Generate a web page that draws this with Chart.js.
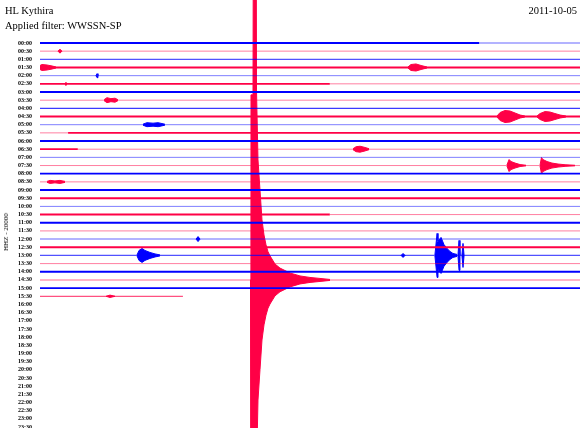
<!DOCTYPE html>
<html>
<head>
<meta charset="utf-8">
<title>HL Kythira helicorder</title>
<script src="https://cdn.jsdelivr.net/npm/chart.js@4.4.1/dist/chart.umd.min.js"></script>
<style>
  body { margin: 0; background: #fff; }
  #wrap { position: relative; width: 580px; height: 428px; overflow: hidden; }
  #heli { position: absolute; left: 0; top: 0; }
  .txt {
    position: absolute;
    font-family: "Liberation Serif", serif;
    font-size: 10.5px;
    color: #000;
    white-space: nowrap;
  }
  .ytitle {
    left: 6px;
    top: 232px;
    font-size: 7px;
    transform: translate(-50%, -50%) rotate(-90deg);
  }
</style>
</head>
<body>
<div id="wrap">
  <canvas id="heli" width="580" height="428"></canvas>
  <div class="txt" style="left:5px; top:5px">HL Kythira</div>
  <div class="txt" style="left:5px; top:20px">Applied filter: WWSSN-SP</div>
  <div class="txt" style="right:3px; top:5px">2011-10-05</div>
  <div class="txt ytitle">HHZ - 20000</div>
</div>
<script>
// ─── Data ─────────────────────────────────────────────────────────

// one row per half hour
const ROW_LABELS = [
  "00:00", "00:30", "01:00", "01:30", "02:00", "02:30", "03:00", "03:30",
  "04:00", "04:30", "05:00", "05:30", "06:00", "06:30", "07:00", "07:30",
  "08:00", "08:30", "09:00", "09:30", "10:00", "10:30", "11:00", "11:30",
  "12:00", "12:30", "13:00", "13:30", "14:00", "14:30", "15:00", "15:30",
  "16:00", "16:30", "17:00", "17:30", "18:00", "18:30", "19:00", "19:30",
  "20:00", "20:30", "21:00", "21:30", "22:00", "22:30", "23:00", "23:30",
];

// background noise level (counts) at the start of every recorded row
const NOISE = [
  2400, 1100, 1500, 2400, 1100, 2200, 2400, 1100,
  1700, 2400, 1100, 1100, 2400, 2200, 1100, 1100,
  2200, 1100, 2400, 2400, 1100, 2400, 2400, 1100,
  1300, 2400, 1500, 1100, 2400, 1300, 2200, 1500,
];
// rows whose noise level changes part way through
const NOISE_CHANGE_ROW = [0, 5, 11, 13, 21];
const NOISE_CHANGE_AT = [24.4, 16.1, 1.56, 2.1, 16.1]; // minutes
const NOISE_AFTER = [1300, 1100, 2200, 1100, 1100];

const ROW_MINUTES = 30;      // length of one row
const LAST_ROW_END = 7.94;   // minutes recorded in the last row
const COUNTS_PER_ROW = 20000;

// events: row, time (minutes into the row), envelope amplitude (counts)
const EVENT_ROW = [1, 3, 3, 4, 5, 7, 9, 9, 10, 13, 15, 15, 17, 24, 26, 26, 26, 26, 26, 29, 31];
const EVENT_TIMES = [
  [1.0, 1.11, 1.22],
  [0, 0.11, 0.39, 0.67, 0.89],
  [20.44, 20.61, 20.89, 21.17, 21.5],
  [3.11, 3.17, 3.22],
  [1.39, 1.44, 1.5],
  [3.56, 3.72, 3.94, 4.17, 4.33],
  [25.39, 25.56, 25.83, 26.11, 26.39, 26.67, 26.94],
  [27.61, 27.78, 28.06, 28.33, 28.61, 28.89, 29.22],
  [5.72, 5.94, 6.28, 6.56, 6.94],
  [17.39, 17.56, 17.78, 18.0, 18.28],
  [25.94, 26.06, 26.17, 26.39, 26.67, 27.0],
  [27.78, 27.86, 27.94, 28.17, 28.44, 28.78, 29.17, 29.72],
  [0.39, 0.56, 0.83, 1.11, 1.39],
  [8.67, 8.78, 8.89],
  [5.39, 5.5, 5.67, 5.83, 6.11, 6.39, 6.67],
  [20.06, 20.17, 20.28],
  [21.94, 22.06, 22.11, 22.28, 22.44, 22.61, 22.78, 22.94, 23.17],
  [23.22, 23.28, 23.33],
  [23.44, 23.5, 23.56],
  [11.694, 11.722, 11.833, 11.878, 11.989, 12.028, 12.111, 12.222, 12.333, 12.444,
   12.556, 12.667, 12.778, 13.056, 13.333, 13.889, 14.444, 15.0, 15.556, 16.111],
  [3.67, 3.89, 4.17],
];
const EVENT_AMPS = [
  [0, 4900, 0],
  [4900, 7300, 6100, 3700, 1200],
  [1200, 7300, 8600, 4900, 1200],
  [0, 4900, 0],
  [0, 3700, 0],
  [1200, 6100, 3700, 4900, 1200],
  [1200, 9800, 14700, 13500, 8600, 3700, 1200],
  [1200, 7300, 12200, 11000, 7300, 3700, 1200],
  [1200, 4900, 3700, 4900, 1200],
  [1200, 6100, 7300, 4900, 1200],
  [1200, 14700, 9800, 6100, 2400, 700],
  [1200, 19600, 14700, 9800, 6100, 3700, 2000, 700],
  [1200, 3700, 2400, 3700, 1200],
  [0, 6100, 0],
  [1200, 12200, 17100, 12200, 7300, 3700, 1200],
  [0, 4900, 0],
  [1200, 53900, 34300, 44100, 26900, 17100, 9800, 4900, 2400],
  [0, 36700, 0],
  [0, 29400, 0],
  [0, 453000, 453000, 1469000, 1469000, 465000, 294000, 220000, 147000, 110000,
   86000, 69000, 59000, 39000, 29000, 17000, 9800, 6100, 3700, 1200],
  [0, 2900, 0],
];

// ─── Chart ────────────────────────────────────────────────────────

const BLUE = [0, 0, 255];
const RED = [255, 0, 70];
const Y_MIN = -5.26;
const Y_MAX = 47.12;
const ROW_PX = 428 / (Y_MAX - Y_MIN);

const clamp = (v, lo, hi) => Math.min(hi, Math.max(lo, v));
const rgba = (c, a) => `rgba(${c[0]}, ${c[1]}, ${c[2]}, ${a})`;
const rowColor = (row, alpha = 1) => rgba(row % 2 ? RED : BLUE, alpha);

const datasets = [];

// a baseline piece: quiet stretches thin and pale, noisy ones thick and solid
function baseline(row, from, to, noise) {
  datasets.push({
    data: [{ x: from, y: row }, { x: to, y: row }],
    borderColor: rowColor(row, clamp(noise / 2200, 0.45, 1)),
    borderWidth: clamp((2 * noise / COUNTS_PER_ROW) * ROW_PX, 1, 2),
    fill: false,
  });
}

NOISE.forEach((n, row) => {
  const end = row === NOISE.length - 1 ? LAST_ROW_END : ROW_MINUTES;
  const c = NOISE_CHANGE_ROW.indexOf(row);
  if (c < 0) {
    baseline(row, 0, end, n);
  } else {
    baseline(row, 0, NOISE_CHANGE_AT[c], n);
    baseline(row, NOISE_CHANGE_AT[c], end, NOISE_AFTER[c]);
  }
});

// events as filled envelopes around their baseline
EVENT_ROW.forEach((row, i) => {
  const t = EVENT_TIMES[i];
  const a = EVENT_AMPS[i];
  datasets.push({
    data: t.map((x, k) => ({ x, y: row - a[k] / COUNTS_PER_ROW })),
    borderColor: rowColor(row),
    borderWidth: 1,
    fill: false,
  });
  datasets.push({
    data: t.map((x, k) => ({ x, y: row + a[k] / COUNTS_PER_ROW })),
    borderColor: rowColor(row),
    backgroundColor: rowColor(row),
    borderWidth: 1,
    fill: "-1",
  });
});

new Chart(document.getElementById("heli"), {
  type: "line",
  data: { datasets },
  options: {
    responsive: false,
    animation: false,
    events: [],
    layout: { padding: 0 },
    plugins: { legend: { display: false }, tooltip: { enabled: false } },
    elements: { point: { radius: 0 }, line: { tension: 0 } },
    scales: {
      x: { type: "linear", min: 0, max: ROW_MINUTES, display: false },
      y: {
        type: "linear",
        reverse: true,
        min: Y_MIN,
        max: Y_MAX,
        afterBuildTicks: (s) => {
          s.ticks = ROW_LABELS.map((_, i) => ({ value: i }));
        },
        afterFit: (s) => {
          s.width = 40;
          s.paddingTop = 0;
          s.paddingBottom = 0;
        },
        grid: { display: false, drawTicks: false },
        border: { display: false },
        ticks: {
          padding: 8,
          autoSkip: false,
          color: "#000",
          font: { family: "'Liberation Serif', serif", size: 6, weight: "bold" },
          callback: (v) => ROW_LABELS[Math.round(v)],
        },
      },
    },
  },
});
</script>
</body>
</html>
